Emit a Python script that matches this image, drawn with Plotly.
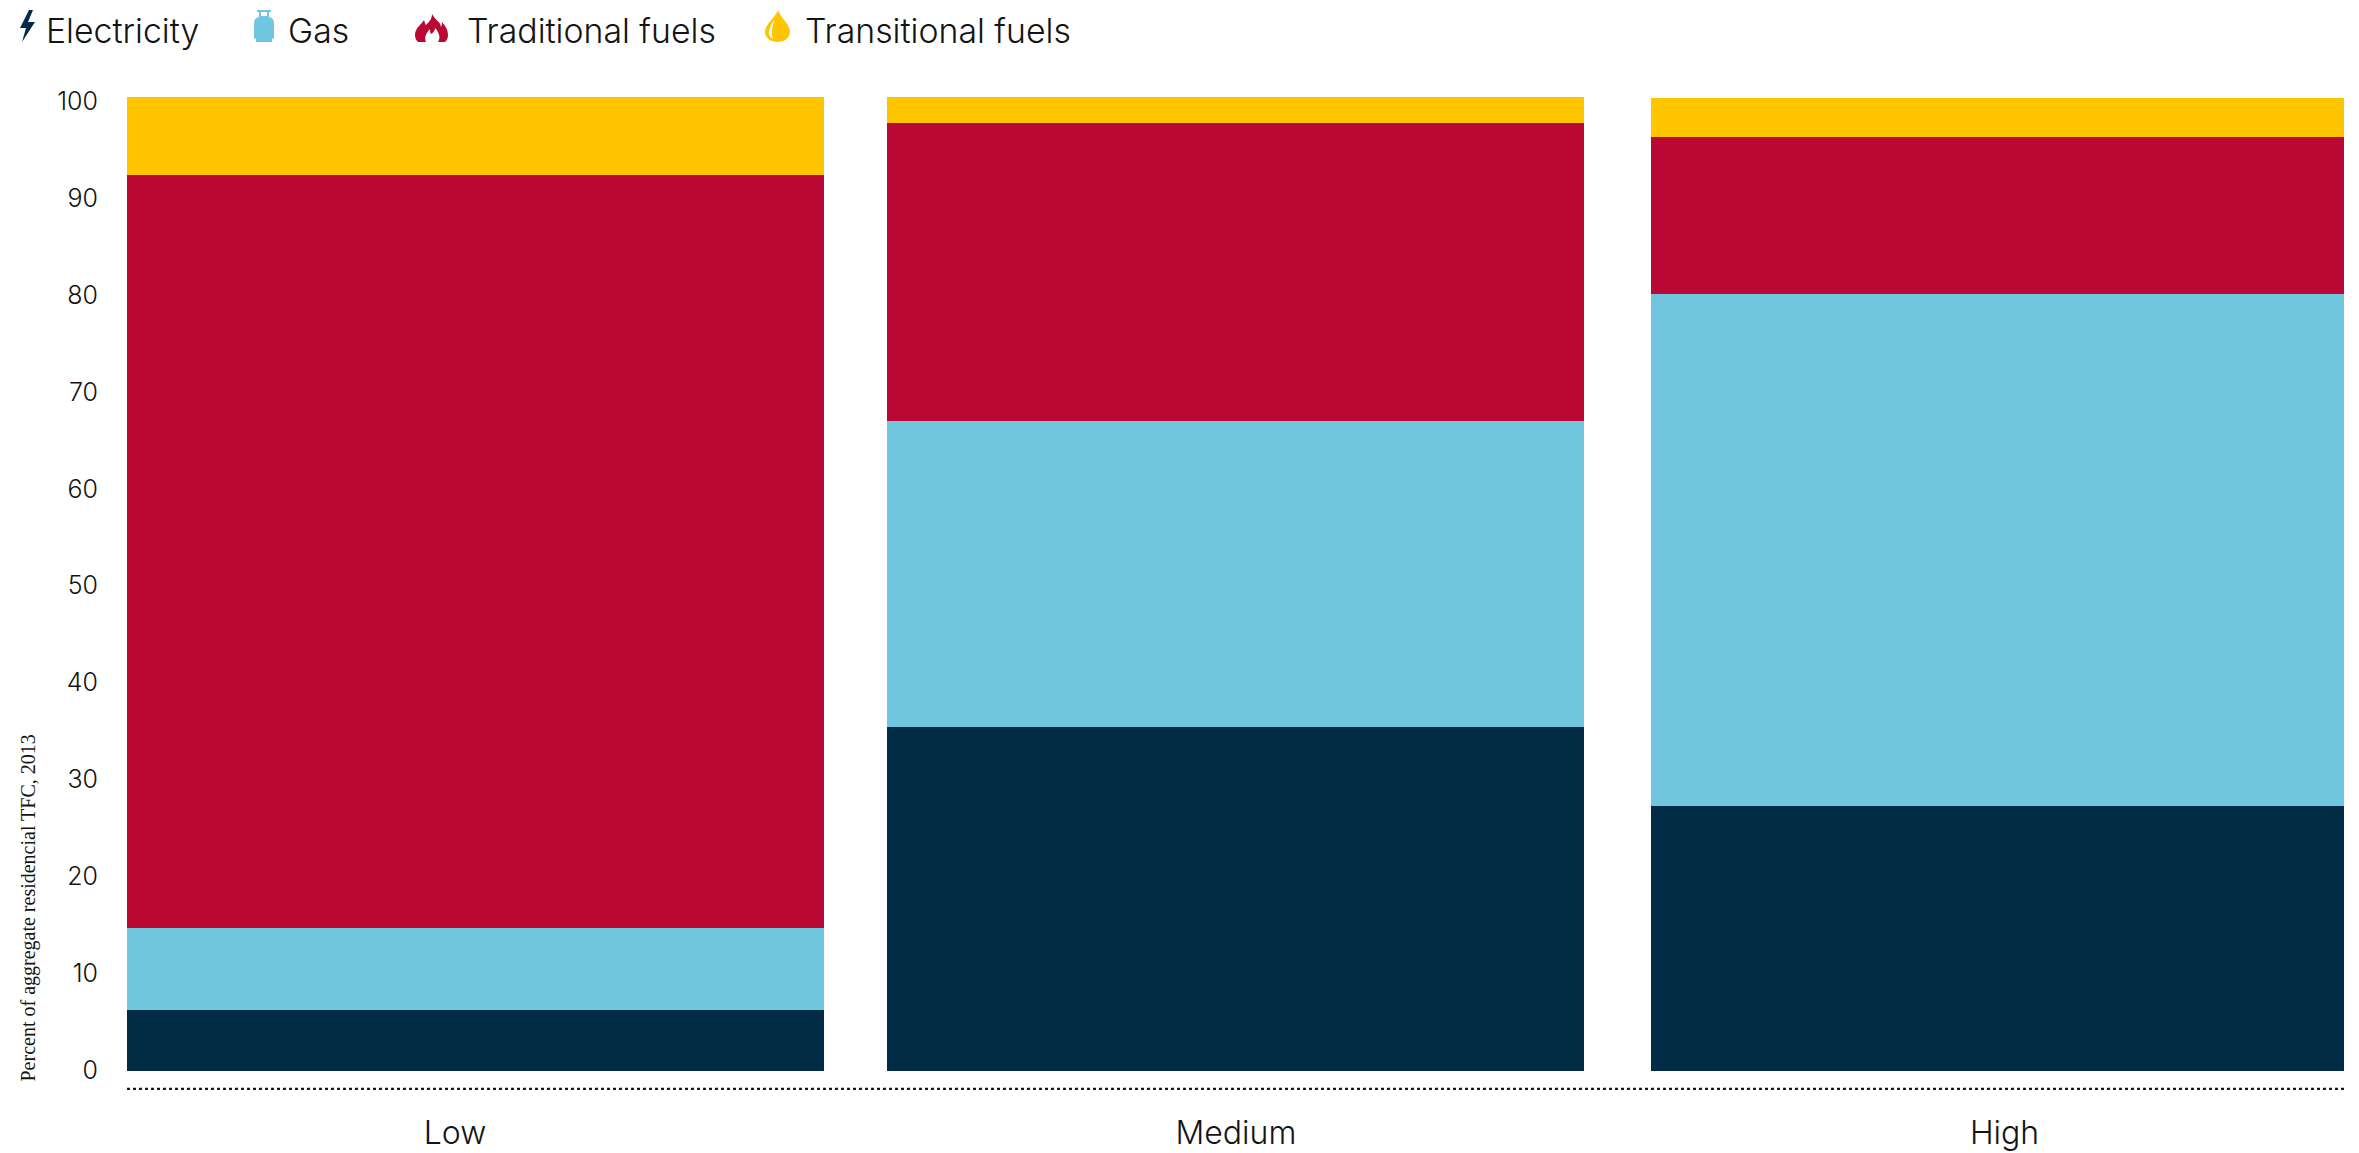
import base64
import plotly.graph_objects as go

categories = ["Low", "Medium", "High"]
electricity = [6.3, 35.4, 27.3]
gas = [8.4, 31.6, 52.8]
traditional = [77.7, 30.7, 16.2]
transitional = [8.0, 2.7, 4.0]
y_ticks = list(range(0, 101, 10))
series_names = ["Electricity", "Gas", "Traditional fuels", "Transitional fuels"]
axis_title = "Percent of aggregate residencial TFC, 2013"

NAVY, BLUE, RED, YELLOW = "#022C45", "#70C6DE", "#BA0835", "#FFC600"
TEXT = "#141414"
W, H = 2359, 1153
L, R, T, B = 127, 15, 96, 63
FONT = "Inter"

x_pos = [0, 0.9987, 2]
widths = [0.916, 0.916, 0.911]
label_pos = [-0.027, 0.999, 2.009]

fig = go.Figure()
for name, vals, col in zip(series_names, [electricity, gas, traditional, transitional],
                           [NAVY, BLUE, RED, YELLOW]):
    fig.add_bar(x=x_pos, y=vals, width=widths, name=name, marker=dict(color=col, line_width=0),
                customdata=categories, showlegend=False)

fig.update_layout(
    barmode="stack", width=W, height=H, autosize=False,
    margin=dict(l=L, r=R, t=T, b=B, pad=0),
    paper_bgcolor="white", plot_bgcolor="white",
    font=dict(family=FONT, color=TEXT),
    xaxis=dict(range=[-0.458, 2.455], tickmode="array", tickvals=label_pos, ticktext=categories,
               automargin=False, showgrid=False, zeroline=False, showline=False,
               ticks="outside", ticklen=15, tickcolor="rgba(0,0,0,0)",
               tickfont=dict(family=FONT, size=32, weight=300, color=TEXT)),
    yaxis=dict(range=[-2, 100.5], tickmode="array", tickvals=y_ticks,
               automargin=False, showgrid=False, zeroline=False, showline=False,
               ticks="outside", ticklen=23, tickcolor="rgba(0,0,0,0)",
               tickfont=dict(family=FONT, size=25, weight=300, color=TEXT)),
)

# dotted baseline
fig.add_shape(type="line", xref="x domain", yref="y", x0=0, x1=1, y0=-1.9, y1=-1.9,
              line=dict(color="#1a1a1a", width=2.5, dash="dot"))

pw, ph = W - L - R, H - T - B
def px(x): return (x - L) / pw
def py(y): return (H - B - y) / ph

fig.add_annotation(text=axis_title, xref="paper", yref="paper", x=px(28), y=py(1084),
                   xanchor="center", yanchor="bottom", textangle=-90, showarrow=False,
                   font=dict(family="Liberation Serif", size=20, color=TEXT))

for name, x0 in zip(series_names, [44, 286, 465, 803]):
    fig.add_annotation(text=name, xref="paper", yref="paper", x=px(x0), y=py(31),
                       xanchor="left", yanchor="middle", showarrow=False,
                       font=dict(family=FONT, size=33.8, weight=300, color=TEXT))

def svg(body, vb):
    s = f'<svg xmlns="http://www.w3.org/2000/svg" viewBox="{vb}" preserveAspectRatio="none">{body}</svg>'
    return "data:image/svg+xml;base64," + base64.b64encode(s.encode()).decode()

icons = [
    (svg(f'<path fill="{NAVY}" d="M9 0 L0 18 L6 18 L2 32 L15 12 L8 12 L13 0 Z"/>', "0 0 15 32"), 20, 10, 15, 32),
    (svg(f'<path fill="{BLUE}" d="M3 0 H17 V2 H15 V7 Q20 8 20 13 V27 Q20 29 18 29 V32 H2 V29 Q0 29 0 27 V13 Q0 8 5 7 V2 H3 Z M7 2 V6 H13 V2 Z" fill-rule="evenodd"/>', "0 0 20 32"), 254, 10, 20, 32),
    (svg(f'<path fill="{RED}" fill-rule="evenodd" d="M17 0 C20 6 26 8 26 13 C27 11 27 10 27 8 C31 12 33 17 33 21 C33 24 32 26 30 28 H23 C26 24 24 18 20 14 C20 17 18 19 16 20 C15 18 15 17 15 15 C11 19 9 24 11 28 H3 C1 26 0 24 0 21 C0 14 6 11 9 6 C10 9 10 10 11 11 C14 8 17 5 17 0 Z"/>', "0 0 33 28"), 415, 14, 33, 28),
    (svg(f'<path fill="{YELLOW}" fill-rule="evenodd" d="M13 0 C15 7 25 14 25 22 C25 28 19 32 12.5 32 C6 32 0 28 0 22 C0 14 11 7 13 0 Z M10 9 C7 14 4 18 4 23 C4 26 6 28 8 29 C6 24 7 15 10 9 Z"/>', "0 0 25 32"), 765, 10, 25, 32),
]
for src, x0, y0, w, h in icons:
    fig.add_layout_image(source=src, xref="paper", yref="paper", x=px(x0), y=py(y0),
                         sizex=w / pw, sizey=h / ph, xanchor="left", yanchor="top",
                         sizing="stretch", layer="above")

fig.write_html("out.html", config=dict(displayModeBar=False),
               post_script="document.body.style.margin='0';document.body.style.overflow='hidden';")
